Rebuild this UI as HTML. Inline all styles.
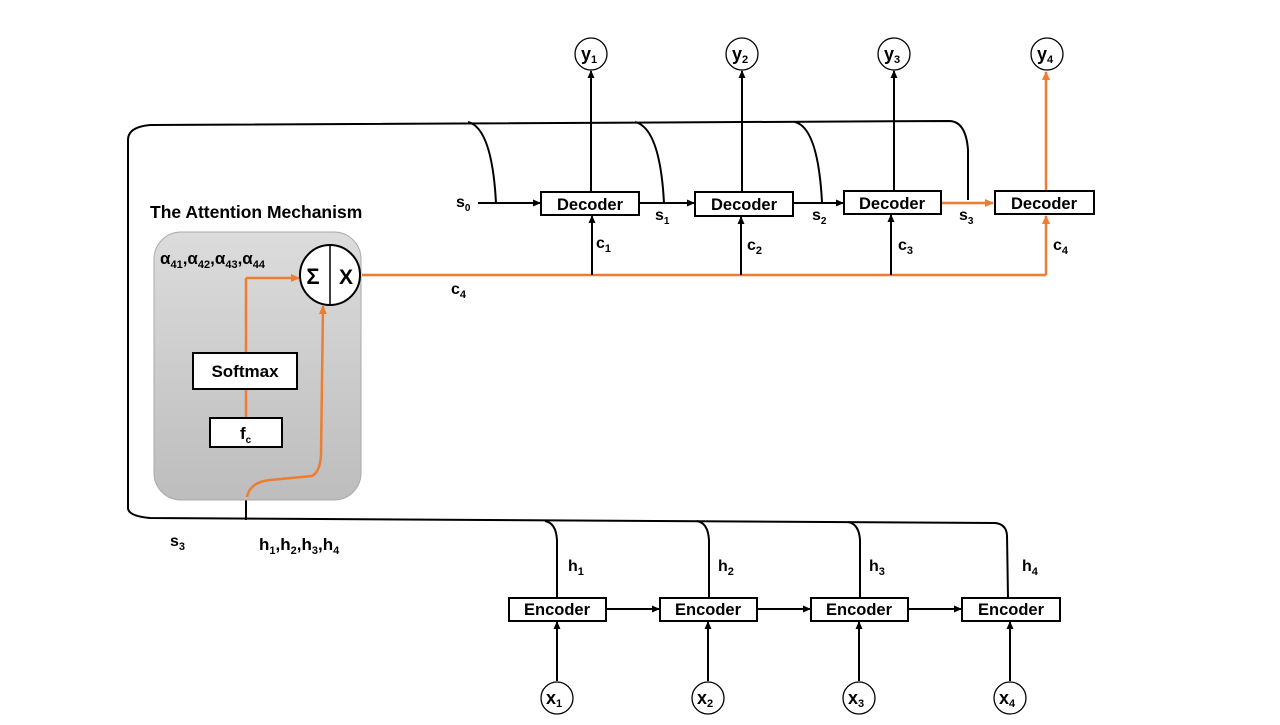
<!DOCTYPE html>
<html><head><meta charset="utf-8"><style>
html,body{margin:0;padding:0;background:#fff;}
svg text{font-family:"Liberation Sans",sans-serif;font-weight:bold;fill:#000;}
</style></head><body>
<svg width="1280" height="720" viewBox="0 0 1280 720" xmlns="http://www.w3.org/2000/svg">
<defs>
<marker id="ab" markerWidth="8" markerHeight="8" refX="7" refY="4" orient="auto" markerUnits="userSpaceOnUse"><path d="M0,0.5 L8,4 L0,7.5 Z" fill="#000"/></marker>
<marker id="ao" markerWidth="9" markerHeight="9" refX="8" refY="4.5" orient="auto" markerUnits="userSpaceOnUse"><path d="M0,0.5 L9,4.5 L0,8.5 Z" fill="#ED7D31"/></marker>
<linearGradient id="g" x1="0" y1="0" x2="0" y2="1"><stop offset="0" stop-color="#dcdcdc"/><stop offset="1" stop-color="#bdbdbd"/></linearGradient>
</defs>
<g fill="none" stroke="#000" stroke-width="2">
<path d="M968,200 L968,150 Q966,122 950,121 L150,125 Q128,127 128,140 L128,508 Q128,516 150,518 L995,523 Q1006,524 1007,535 L1008,598"/>
<path d="M468,122 Q492,128 496,203"/>
<path d="M635,122 Q660,128 664,203"/>
<path d="M795,122 Q818,128 822,202"/>
<path d="M545,521 Q556,523 557,540 L557,598"/>
<path d="M697,521 Q708,523 709,540 L709,598"/>
<path d="M848,522 Q859,524 860,540 L860,598"/>
<line x1="246" y1="447" x2="246" y2="520"/>
</g>
<rect x="154" y="232" width="207" height="268" rx="27" fill="url(#g)" stroke="#aaa" stroke-width="1"/>
<text x="150" y="218" font-size="17.5">The Attention Mechanism</text>
<text x="160" y="264" font-size="17">α<tspan font-size="11" dy="4">41</tspan><tspan dy="-4">,α</tspan><tspan font-size="11" dy="4">42</tspan><tspan dy="-4">,α</tspan><tspan font-size="11" dy="4">43</tspan><tspan dy="-4">,α</tspan><tspan font-size="11" dy="4">44</tspan></text>
<g stroke="#ED7D31" stroke-width="2.5" fill="none">
<line x1="246" y1="353" x2="246" y2="278"/>
<line x1="246" y1="278" x2="299" y2="278" marker-end="url(#ao)"/>
<line x1="246" y1="389" x2="246" y2="418"/>
<path d="M247,497 Q250,482 270,480 L312,476 Q320,472 321,455 L323,306" marker-end="url(#ao)"/>
<line x1="362" y1="275" x2="1046" y2="275"/>
<line x1="1046" y1="275" x2="1046" y2="216" marker-end="url(#ao)"/>
<line x1="1046" y1="190" x2="1046" y2="72" marker-end="url(#ao)"/>
<line x1="941" y1="203" x2="993" y2="203" marker-end="url(#ao)"/>
</g>
<rect x="193" y="353" width="104" height="36" fill="#fff" stroke="#000" stroke-width="2"/>
<text x="245" y="377" font-size="17" text-anchor="middle">Softmax</text>
<rect x="210" y="418" width="72" height="29" fill="#fff" stroke="#000" stroke-width="2"/>
<text x="240" y="439" font-size="17">f<tspan font-size="10" dy="4">c</tspan></text>
<circle cx="330" cy="275" r="30" fill="#fff" stroke="#000" stroke-width="2"/>
<line x1="330" y1="245" x2="330" y2="305" stroke="#000" stroke-width="1.5"/>
<text x="313" y="284" font-size="22" text-anchor="middle" font-weight="normal">Σ</text>
<text x="346" y="284" font-size="21" text-anchor="middle" font-weight="normal">X</text>
<g stroke="#000" stroke-width="2" fill="none">
<line x1="478" y1="203" x2="540" y2="203" marker-end="url(#ab)"/>
<line x1="639" y1="203" x2="694" y2="203" marker-end="url(#ab)"/>
<line x1="793" y1="203" x2="843" y2="203" marker-end="url(#ab)"/>
<line x1="592" y1="275" x2="592" y2="216" marker-end="url(#ab)"/>
<line x1="741" y1="275" x2="741" y2="217" marker-end="url(#ab)"/>
<line x1="891" y1="275" x2="891" y2="215" marker-end="url(#ab)"/>
<line x1="591" y1="192" x2="591" y2="71" marker-end="url(#ab)"/>
<line x1="742" y1="192" x2="742" y2="71" marker-end="url(#ab)"/>
<line x1="894" y1="191" x2="894" y2="71" marker-end="url(#ab)"/>
<line x1="606" y1="609" x2="659" y2="609" marker-end="url(#ab)"/>
<line x1="757" y1="609" x2="810" y2="609" marker-end="url(#ab)"/>
<line x1="908" y1="609" x2="961" y2="609" marker-end="url(#ab)"/>
<line x1="557" y1="681" x2="557" y2="622" marker-end="url(#ab)"/>
<line x1="708" y1="681" x2="708" y2="622" marker-end="url(#ab)"/>
<line x1="859" y1="681" x2="859" y2="622" marker-end="url(#ab)"/>
<line x1="1010" y1="681" x2="1010" y2="622" marker-end="url(#ab)"/>
</g>
<g fill="#fff" stroke="#000" stroke-width="2">
<rect x="541" y="192" width="98" height="23"/>
<rect x="695" y="192" width="98" height="24"/>
<rect x="844" y="191" width="97" height="23"/>
<rect x="995" y="191" width="99" height="23"/>
<rect x="509" y="598" width="97" height="23"/>
<rect x="660" y="598" width="97" height="23"/>
<rect x="811" y="598" width="97" height="23"/>
<rect x="962" y="598" width="98" height="23"/>
</g>
<g font-size="16.5" text-anchor="middle">
<text x="590" y="210">Decoder</text>
<text x="744" y="210">Decoder</text>
<text x="892" y="209">Decoder</text>
<text x="1044" y="209">Decoder</text>
<text x="557" y="615">Encoder</text>
<text x="708" y="615">Encoder</text>
<text x="859" y="615">Encoder</text>
<text x="1011" y="615">Encoder</text>
</g>
<g fill="#fff" stroke="#000" stroke-width="1.3">
<circle cx="591" cy="54" r="16"/><circle cx="742" cy="54" r="16"/><circle cx="894" cy="54" r="16"/><circle cx="1047" cy="54" r="16"/>
<circle cx="557" cy="698" r="16"/><circle cx="708" cy="698" r="16"/><circle cx="859" cy="698" r="16"/><circle cx="1010" cy="698" r="16"/>
</g>
<g font-size="18">
<text x="581" y="60">y<tspan font-size="11" dy="3">1</tspan></text>
<text x="732" y="60">y<tspan font-size="11" dy="3">2</tspan></text>
<text x="884" y="60">y<tspan font-size="11" dy="3">3</tspan></text>
<text x="1037" y="60">y<tspan font-size="11" dy="3">4</tspan></text>
<text x="546" y="704">x<tspan font-size="11" dy="3">1</tspan></text>
<text x="697" y="704">x<tspan font-size="11" dy="3">2</tspan></text>
<text x="848" y="704">x<tspan font-size="11" dy="3">3</tspan></text>
<text x="999" y="704">x<tspan font-size="11" dy="3">4</tspan></text>
</g>
<g font-size="16">
<text x="456" y="207">s<tspan font-size="10" dy="4">0</tspan></text>
<text x="655" y="220">s<tspan font-size="10" dy="4">1</tspan></text>
<text x="812" y="220">s<tspan font-size="10" dy="4">2</tspan></text>
<text x="959" y="220">s<tspan font-size="10" dy="4">3</tspan></text>
<text x="596" y="248">c<tspan font-size="11" dy="4">1</tspan></text>
<text x="747" y="250">c<tspan font-size="11" dy="4">2</tspan></text>
<text x="898" y="250">c<tspan font-size="11" dy="4">3</tspan></text>
<text x="1053" y="250">c<tspan font-size="11" dy="4">4</tspan></text>
<text x="451" y="294">c<tspan font-size="11" dy="4">4</tspan></text>
<text x="170" y="546">s<tspan font-size="11" dy="4">3</tspan></text>
<text x="259" y="550" font-size="17">h<tspan font-size="11" dy="4">1</tspan><tspan dy="-4">,h</tspan><tspan font-size="11" dy="4">2</tspan><tspan dy="-4">,h</tspan><tspan font-size="11" dy="4">3</tspan><tspan dy="-4">,h</tspan><tspan font-size="11" dy="4">4</tspan></text>
<text x="568" y="571">h<tspan font-size="11" dy="4">1</tspan></text>
<text x="718" y="571">h<tspan font-size="11" dy="4">2</tspan></text>
<text x="869" y="571">h<tspan font-size="11" dy="4">3</tspan></text>
<text x="1022" y="571">h<tspan font-size="11" dy="4">4</tspan></text>
</g>
</svg>
</body></html>
